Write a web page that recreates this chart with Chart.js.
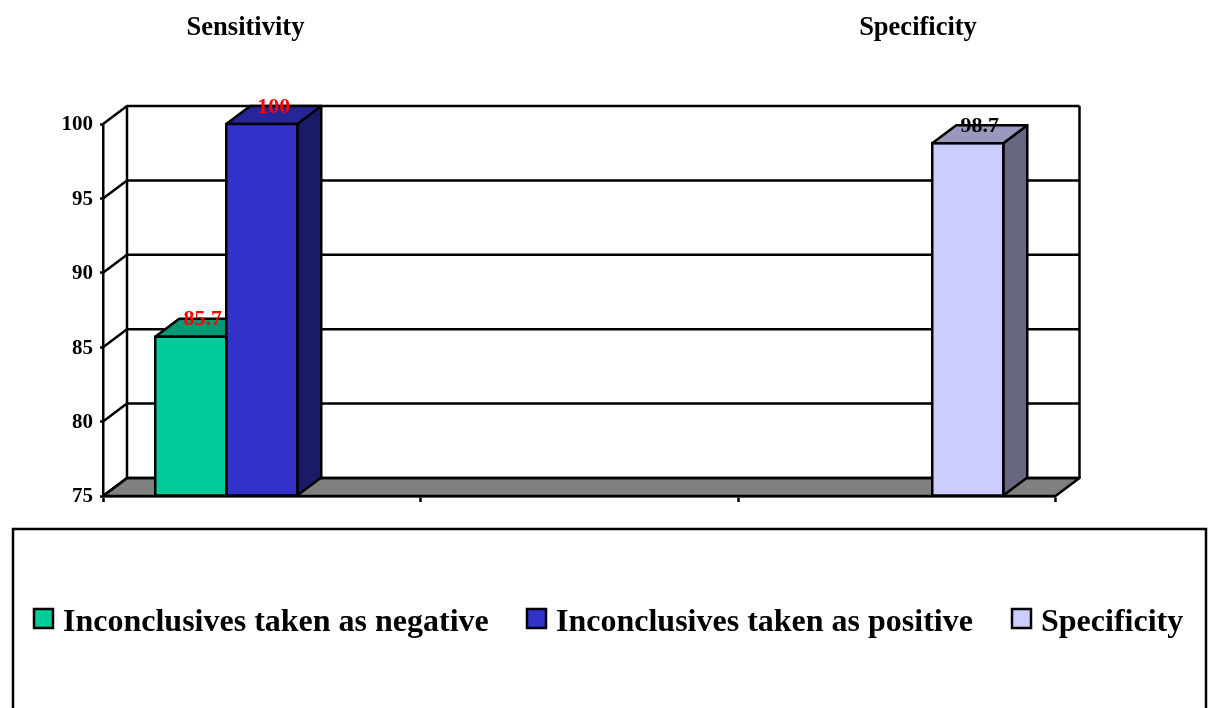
<!DOCTYPE html>
<html>
<head>
<meta charset="utf-8">
<title>Sensitivity and specificity</title>
<script src="https://cdn.jsdelivr.net/npm/chart.js@4"></script>
<style>
  html, body { margin: 0; padding: 0; background: #fff; overflow: hidden; }
  canvas { display: block; }
</style>
</head>
<body>
<canvas id="myChart" width="1208" height="708"></canvas>
<script>
const categories = ['Sensitivity', '', 'Specificity'];
const negativeValues = [85.7, null, null];
const positiveValues = [100, null, null];
const specificityValues = [null, null, 98.7];
const tickValues = [75, 80, 85, 90, 95, 100];

const seriesNames = ['Inconclusives taken as negative', 'Inconclusives taken as positive', 'Specificity'];
const frontColors = ['#00CC99', '#3333CC', '#CCCCFF'];
const topColors = ['#009973', '#262699', '#9999BF'];
const sideColors = ['#006650', '#1A1A66', '#666680'];
const labelColors = ['#FF0000', '#FF0000', '#000000'];

const fontFamily = '"Liberation Serif", "Times New Roman", serif';
const depthX = 24;
const depthY = 18;
const baseValue = 75;

function face(ctx, points, color) {
  ctx.beginPath();
  points.forEach(function(p, i) {
    if (i === 0) ctx.moveTo(p[0], p[1]);
    else ctx.lineTo(p[0], p[1]);
  });
  ctx.closePath();
  ctx.fillStyle = color;
  ctx.fill();
  ctx.stroke();
}

function eachBar(chart, callback) {
  chart.data.datasets.forEach(function(dataset, d) {
    chart.getDatasetMeta(d).data.forEach(function(bar, i) {
      if (dataset.data[i] !== null) callback(bar, d, dataset.data[i]);
    });
  });
}

// back wall, floor and the sides of the bars
const behindBars = {
  id: 'behindBars',
  beforeDatasetsDraw(chart) {
    const ctx = chart.ctx;
    const area = chart.chartArea;
    const y = chart.scales.y;
    ctx.save();
    ctx.strokeStyle = '#000';
    ctx.lineWidth = 2.5;
    ctx.lineJoin = 'round';

    face(ctx, [
      [area.left, area.bottom],
      [area.left + depthX, area.bottom - depthY],
      [area.right + depthX, area.bottom - depthY],
      [area.right, area.bottom]
    ], '#808080');

    tickValues.forEach(function(v) {
      const py = y.getPixelForValue(v);
      ctx.beginPath();
      ctx.moveTo(area.left, py);
      ctx.lineTo(area.left + depthX, py - depthY);
      ctx.lineTo(area.right + depthX, py - depthY);
      ctx.stroke();
    });

    ctx.beginPath();
    ctx.moveTo(area.left + depthX, area.top - depthY);
    ctx.lineTo(area.left + depthX, area.bottom - depthY);
    ctx.moveTo(area.right + depthX, area.top - depthY);
    ctx.lineTo(area.right + depthX, area.bottom - depthY);
    ctx.stroke();

    eachBar(chart, function(bar, d) {
      const left = bar.x - bar.width / 2;
      const right = bar.x + bar.width / 2;
      face(ctx, [
        [right, bar.base],
        [right + depthX, bar.base - depthY],
        [right + depthX, bar.y - depthY],
        [right, bar.y]
      ], sideColors[d]);
      face(ctx, [
        [left, bar.y],
        [left + depthX, bar.y - depthY],
        [right + depthX, bar.y - depthY],
        [right, bar.y]
      ], topColors[d]);
    });
    ctx.restore();
  }
};

// outlines, value labels, headings and the legend box
const overBars = {
  id: 'overBars',
  afterDatasetsDraw(chart) {
    const ctx = chart.ctx;
    ctx.save();
    ctx.strokeStyle = '#000';
    ctx.lineWidth = 2.5;

    eachBar(chart, function(bar) {
      ctx.strokeRect(bar.x - bar.width / 2, bar.y, bar.width, bar.base - bar.y);
    });

    ctx.textBaseline = 'middle';
    ctx.textAlign = 'center';
    ctx.font = 'bold 22px ' + fontFamily;
    eachBar(chart, function(bar, d, value) {
      ctx.fillStyle = labelColors[d];
      ctx.fillText(String(value), bar.x + 12, bar.y - 17);
    });

    ctx.fillStyle = '#000';
    ctx.font = 'bold 26.5px ' + fontFamily;
    ctx.fillText(categories[0], 245.5, 28);
    ctx.fillText(categories[2], 918, 28);

    // legend frame runs off the bottom of the page
    ctx.beginPath();
    ctx.moveTo(13, 712);
    ctx.lineTo(13, 529);
    ctx.lineTo(1206, 529);
    ctx.lineTo(1206, 712);
    ctx.stroke();

    const swatchX = [34, 527, 1012];
    ctx.textAlign = 'left';
    ctx.font = 'bold 32px ' + fontFamily;
    seriesNames.forEach(function(name, i) {
      ctx.fillStyle = frontColors[i];
      ctx.fillRect(swatchX[i], 609, 19, 19);
      ctx.strokeRect(swatchX[i], 609, 19, 19);
      ctx.fillStyle = '#000';
      ctx.fillText(name, swatchX[i] + 29, 623);
    });
    ctx.restore();
  }
};

const chart = new Chart(document.getElementById('myChart'), {
  type: 'bar',
  data: {
    labels: categories,
    datasets: [
      { label: seriesNames[0], data: negativeValues, backgroundColor: frontColors[0], base: baseValue },
      { label: seriesNames[1], data: positiveValues, backgroundColor: frontColors[1], base: baseValue },
      { label: seriesNames[2], data: specificityValues, backgroundColor: frontColors[2], base: baseValue }
    ]
  },
  options: {
    responsive: false,
    animation: false,
    barPercentage: 1,
    categoryPercentage: 0.671,
    layout: { padding: { left: 0, top: 124, right: 152.5, bottom: 206 } },
    plugins: {
      legend: { display: false },
      title: { display: false },
      tooltip: { enabled: false }
    },
    scales: {
      x: {
        grid: { offset: true, drawOnChartArea: false, tickLength: 6, tickWidth: 2.5, tickColor: '#000' },
        border: { display: true, color: '#000', width: 2.5 },
        ticks: { display: false },
        afterFit(axis) {
          axis.height = 6;
          axis.paddingLeft = 0;
          axis.paddingRight = 0;
        }
      },
      y: {
        min: 75,
        max: 100,
        grid: { drawOnChartArea: false, tickLength: 3, tickWidth: 2.5, tickColor: '#000' },
        border: { display: true, color: '#000', width: 2.5 },
        ticks: {
          stepSize: 5,
          padding: 7,
          labelOffset: 1,
          color: '#000',
          font: { family: fontFamily, size: 21, weight: 'bold' }
        },
        afterFit(axis) {
          axis.width = 103;
          axis.paddingTop = 0;
          axis.paddingBottom = 0;
        }
      }
    }
  },
  plugins: [behindBars, overBars]
});
</script>
</body>
</html>
